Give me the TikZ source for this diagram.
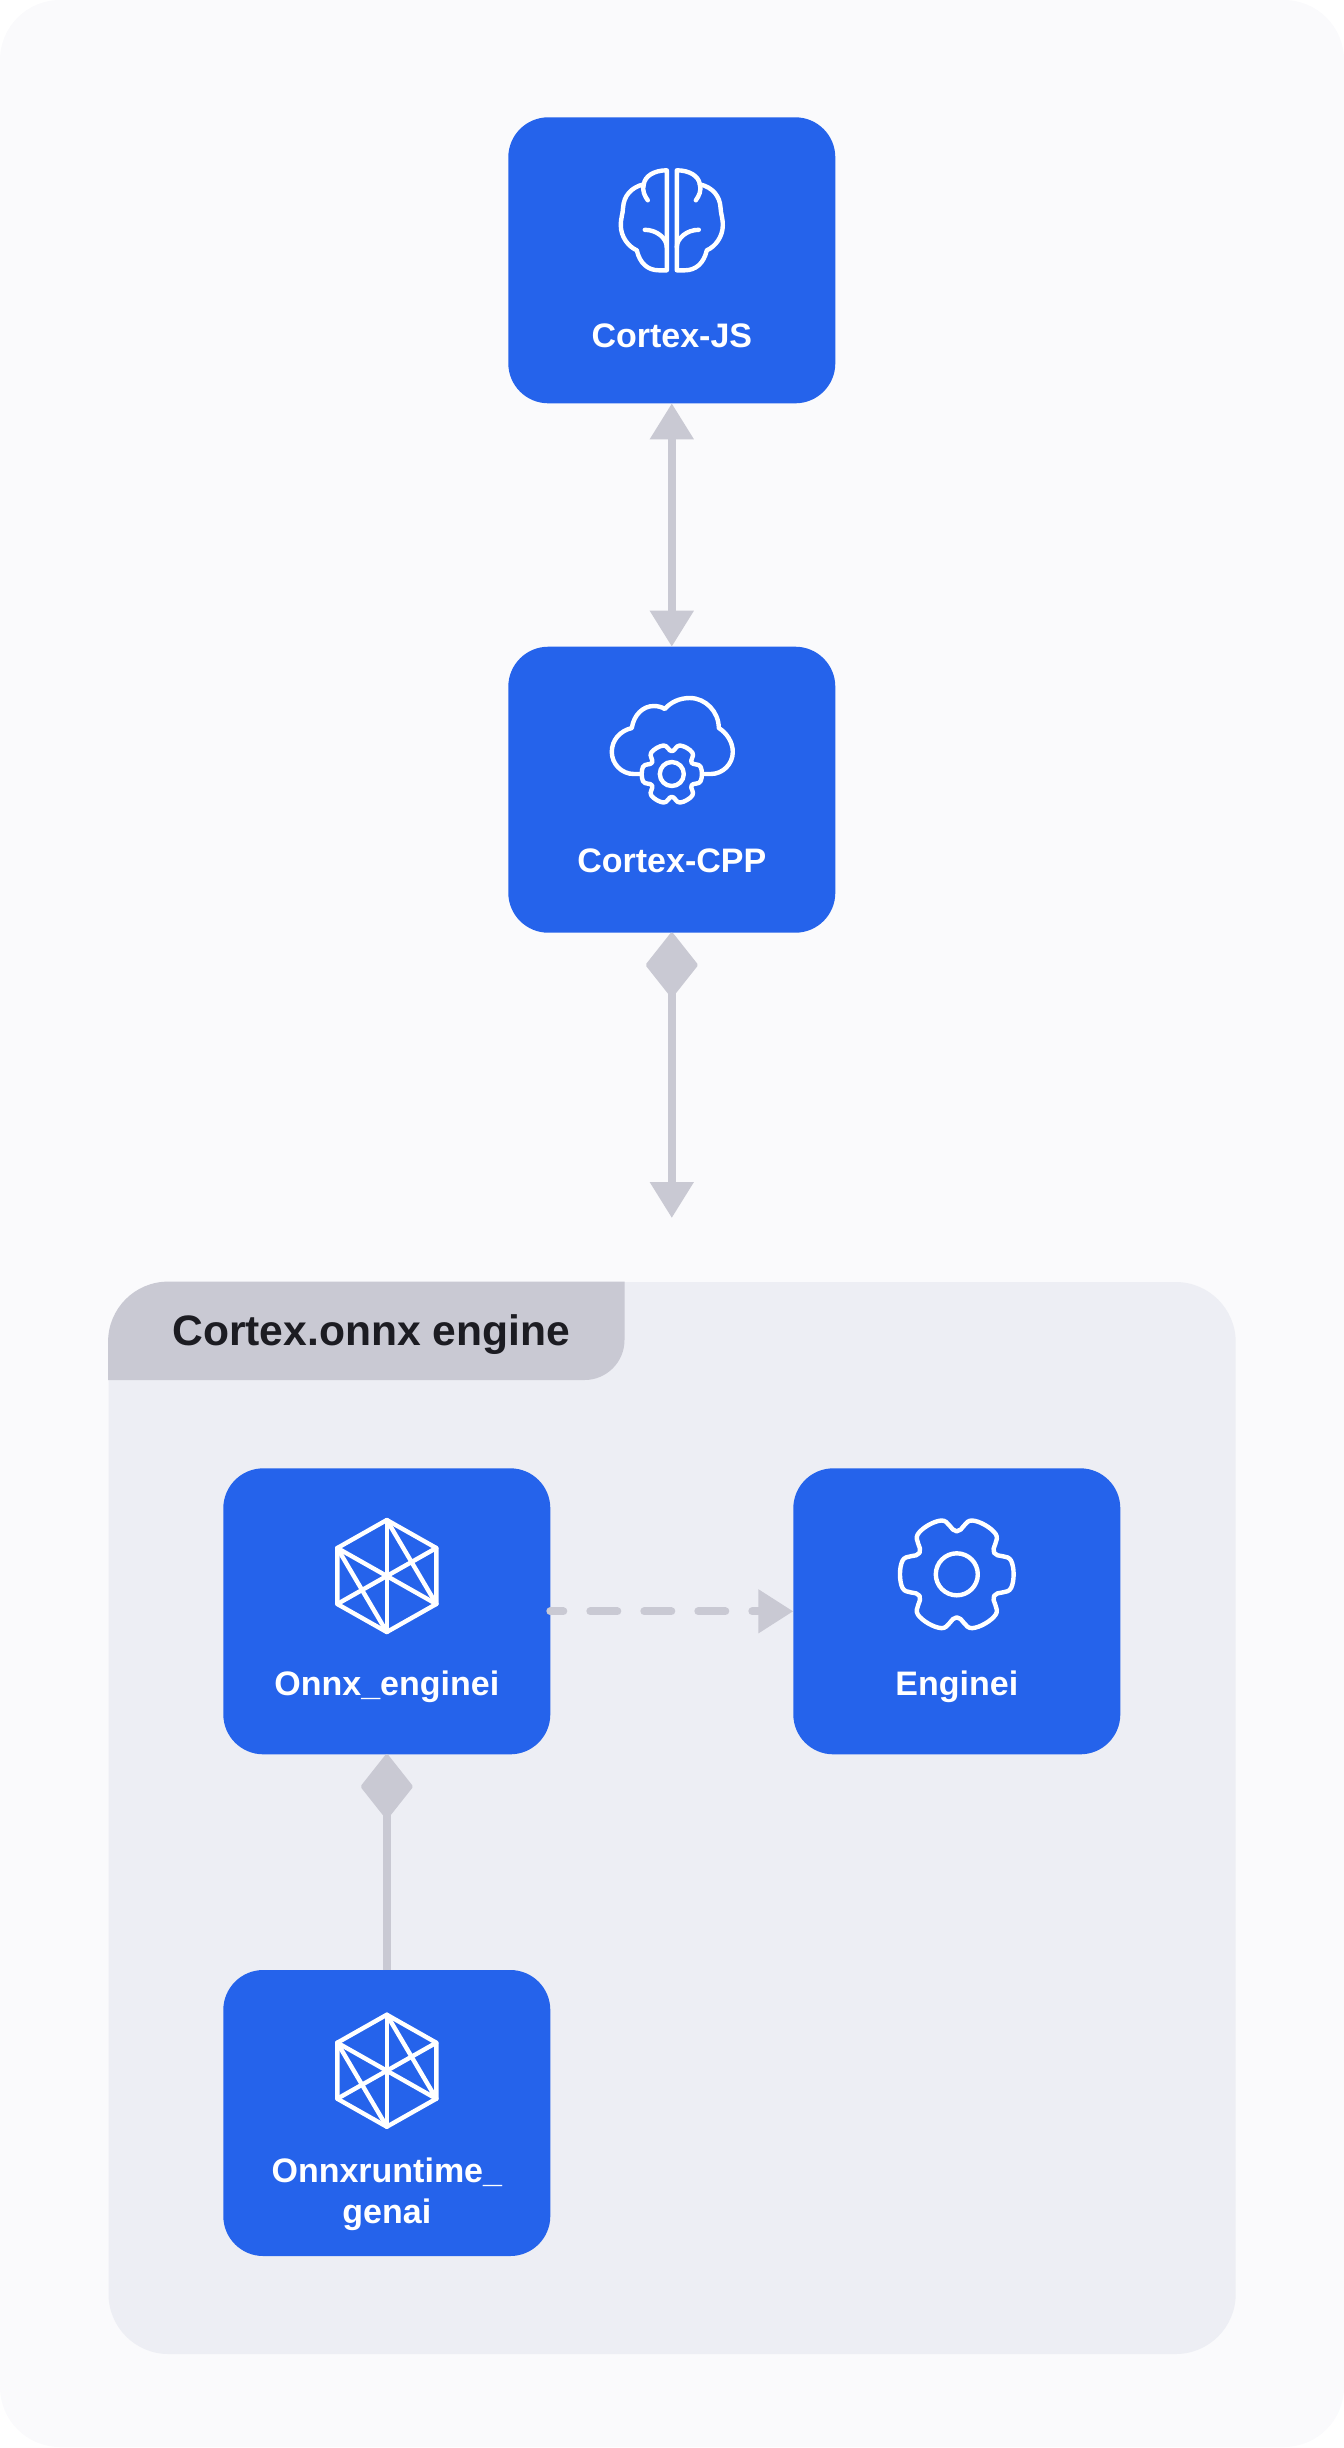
\documentclass[tikz,border=0pt]{standalone}
\usepackage{fontspec}
\setmainfont{Liberation Sans}
\usetikzlibrary{positioning, arrows.meta}

\definecolor{page_bg}{HTML}{FAFAFC}
\definecolor{group_bg}{HTML}{EDEEF4}
\definecolor{line_grey}{HTML}{C9C9D3}
\definecolor{box_blue}{HTML}{2563EB}
\definecolor{title_ink}{HTML}{1C1C22}

\tikzset{
    icon_line/.style={draw=white, line width=2.2pt, line cap=round, line join=round},
    gear_shape/.pic={
        \draw[icon_line] plot[smooth cycle, tension=0.7] coordinates {
            (14:56) (-14:56) (-30:43) (-46:56) (-74:56) (-90:43) (-106:56) (-134:56) (-150:43)
            (-166:56) (-194:56) (-210:43) (-226:56) (-254:56) (-270:43) (-286:56) (-314:56) (-330:43)};
    },
    gear_icon/.pic={
        \pic {gear_shape};
        \draw[icon_line] (0,0) circle[radius=21];
    },
    hex_icon/.pic={
        \draw[icon_line] (0,-56) -- (49.5,-28) -- (49.5,28) -- (0,56) -- (-49.5,28) -- (-49.5,-28) -- cycle;
        \draw[icon_line] (0,-56) -- (0,56);
        \draw[icon_line] (-49.5,-28) -- (49.5,28);
        \draw[icon_line] (49.5,-28) -- (-49.5,28);
        \draw[icon_line] (0,-56) -- (49.5,28);
        \draw[icon_line] (-49.5,-28) -- (0,56);
    },
    brain_icon/.pic={
        \foreach \side in {1,-1} {
            \begin{scope}[xscale=\side]
                \draw[icon_line] (5,50) -- (5,-50) .. controls (18,-50) and (27,-44) .. (28,-36)
                    .. controls (41,-33) and (48,-24) .. (48.7,-13) .. controls (49,-6) and (51,-3) .. (51,5)
                    .. controls (51,16) and (44,26) .. (35,30) .. controls (32,43) and (24,50) .. (13,50) -- cycle;
                \draw[icon_line] (28,-36) .. controls (30,-30) and (27,-24) .. (24,-20);
                \draw[icon_line] (27,9.5) .. controls (15,9.5) and (5,18) .. (5,27);
            \end{scope}
        }
    },
    cloud_icon/.pic={
        \draw[icon_line] (-33,0) -- (-38,0) .. controls (-50,0) and (-60,-10) .. (-60,-22)
            .. controls (-60,-34) and (-52,-43) .. (-40,-46) .. controls (-38,-59) and (-29,-68) .. (-18,-68)
            .. controls (-14,-68) and (-10,-67) .. (-7,-65) .. controls (-1,-72) and (8,-76) .. (18,-76)
            .. controls (34,-76) and (47,-62) .. (47,-46) .. controls (55,-41) and (61,-32) .. (61,-22)
            .. controls (61,-10) and (51,0) .. (39,0) -- (32,0);
        \pic[scale=0.53] {gear_shape};
        \draw[icon_line] (0,0) circle[radius=12];
    },
}

\begin{document}
\begin{tikzpicture}
[
    x=0.5pt, y=-0.5pt, node distance=100pt and 100pt, on grid,
    blue_box/.style={rectangle, fill=box_blue, rounded corners=20pt, minimum width=163.5pt, minimum height=143pt, inner sep=0pt, outer sep=0pt},
    box_label/.style={text=white, font=\bfseries\fontsize{17}{20.5}\selectfont, align=center, inner sep=0pt, text height=10pt, text depth=10pt},
    link/.style={draw=line_grey, line width=4pt},
]
    \useasboundingbox (0,0) rectangle (1344,2448);
    \path[fill=page_bg, rounded corners=30pt] (0,0) rectangle (1344,2447);

    % engine group
    \node[rectangle, fill=group_bg, rounded corners=30pt, minimum width=563.6pt, minimum height=536pt, inner sep=0pt] (group) at (672.1,1818) {};
    \coordinate (tab_corner) at (624.5,1380);
    \fill[line_grey] (group.west |- tab_corner) [rounded corners=30pt] -- (group.north west) [sharp corners] -- (group.north -| tab_corner) [rounded corners=20pt] -- (tab_corner) [sharp corners] -- cycle;
    \node[anchor=base west, inner sep=0pt, text=title_ink, font=\bfseries\fontsize{21.3}{24}\selectfont] (group_title) at (172,1345) {Cortex.onnx engine};

    % boxes
    \node[blue_box] (js) at (671.8,260.3) {};
    \node[blue_box] (cpp) [below = 264.7pt of js] {};
    \node[blue_box] (onnx_engine) at (386.8,1611.3) {};
    \node[blue_box] (enginei) [right = 285pt of onnx_engine] {};
    \node[blue_box] (runtime) [below = 250.85pt of onnx_engine] {};
    \coordinate[below = 214.15pt of cpp] (cpp_end);

    % labels
    \node[box_label] (js_text) [below = 43.35pt of js] {Cortex-JS};
    \node[box_label] (cpp_text) [below = 41.3pt of cpp] {Cortex-CPP};
    \node[box_label] (onnx_text) [below = 41.85pt of onnx_engine] {Onnx\_enginei};
    \node[box_label] (enginei_text) [below = 41.85pt of enginei] {Enginei};
    \node[box_label] (runtime_text) [below = 55.2pt of runtime] {Onnxruntime\_\\genai};

    % icons
    \pic at ([yshift=20pt]js.center) {brain_icon};
    \pic at ([yshift=7.85pt]cpp.center) {cloud_icon};
    \pic at ([yshift=17.65pt]onnx_engine.center) {hex_icon};
    \pic at ([yshift=18.5pt]enginei.center) {gear_icon};
    \pic at ([yshift=21.15pt]runtime.center) {hex_icon};

    % connectors
    \draw[link, {Triangle[length=18pt, width=21pt]}-{Triangle[length=18pt, width=21pt]}] (js) -- (cpp);
    \draw[link, {Diamond[length=33.5pt, width=26.5pt, line width=2pt, round]}-{Triangle[length=18pt, width=21pt]}] (cpp) -- (cpp_end);
    \draw[link, line cap=round, dash pattern=on 13.5pt off 13.5pt, dash phase=7pt, -{Triangle[length=17.5pt, width=21pt]}] (onnx_engine) -- (enginei);
    \draw[link, -{Diamond[length=33.5pt, width=26.5pt, line width=2pt, round]}] (runtime) -- (onnx_engine);
\end{tikzpicture}
\end{document}
